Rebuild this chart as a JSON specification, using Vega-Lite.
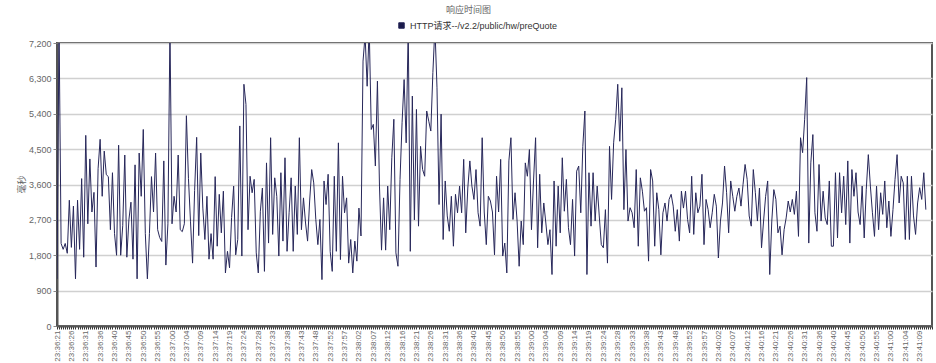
{
"$schema": "https://vega.github.io/schema/vega-lite/v6.json",
"width": 875, "height": 283,
"autosize": "none",
"padding": {"left": 57, "top": 43, "right": 4, "bottom": 37},
"background": "white",
"config": {"view": {"stroke": "#555555", "strokeWidth": 2}, "font": "Liberation Sans, Noto Sans CJK SC"},
"title": {"text": "响应时间图", "fontSize": 9, "fontWeight": "normal", "color": "#666666", "anchor": "middle", "dx": -26, "offset": 6, "font": "Noto Sans CJK SC"},
"data": {"values": [
{"i":0,"v":1200},{"i":1,"v":7600},{"i":2,"v":2100},{"i":3,"v":1950},{"i":4,"v":2100},{"i":5,"v":1850},{"i":6,"v":3200},{"i":7,"v":2000},{"i":8,"v":3050},{"i":9,"v":1200},
{"i":10,"v":3200},{"i":11,"v":1950},{"i":12,"v":3750},{"i":13,"v":1750},{"i":14,"v":4850},{"i":15,"v":2600},{"i":16,"v":4250},{"i":17,"v":2900},{"i":18,"v":3400},{"i":19,"v":1500},
{"i":20,"v":4000},{"i":21,"v":4750},{"i":22,"v":3300},{"i":23,"v":4450},{"i":24,"v":3850},{"i":25,"v":3800},{"i":26,"v":2450},{"i":27,"v":3900},{"i":28,"v":2350},{"i":29,"v":1800},
{"i":30,"v":4600},{"i":31,"v":1800},{"i":32,"v":2550},{"i":33,"v":4350},{"i":34,"v":1750},{"i":35,"v":2700},{"i":36,"v":3150},{"i":37,"v":1700},{"i":38,"v":4100},{"i":39,"v":1200},
{"i":40,"v":4400},{"i":41,"v":3300},{"i":42,"v":5000},{"i":43,"v":2350},{"i":44,"v":1200},{"i":45,"v":2350},{"i":46,"v":3800},{"i":47,"v":2900},{"i":48,"v":4400},{"i":49,"v":2450},
{"i":50,"v":2250},{"i":51,"v":2150},{"i":52,"v":4200},{"i":53,"v":1550},{"i":54,"v":2600},{"i":55,"v":7600},{"i":56,"v":2600},{"i":57,"v":3300},{"i":58,"v":2900},{"i":59,"v":4350},
{"i":60,"v":2450},{"i":61,"v":2400},{"i":62,"v":2600},{"i":63,"v":5350},{"i":64,"v":3750},{"i":65,"v":2650},{"i":66,"v":1600},{"i":67,"v":3450},{"i":68,"v":4800},{"i":69,"v":2300},
{"i":70,"v":4400},{"i":71,"v":3000},{"i":72,"v":2200},{"i":73,"v":3300},{"i":74,"v":1700},{"i":75,"v":2350},{"i":76,"v":1700},{"i":77,"v":3800},{"i":78,"v":2030},{"i":79,"v":3350},
{"i":80,"v":2370},{"i":81,"v":3430},{"i":82,"v":1350},{"i":83,"v":1900},{"i":84,"v":1480},{"i":85,"v":2760},{"i":86,"v":3560},{"i":87,"v":1810},{"i":88,"v":2200},{"i":89,"v":5090},
{"i":90,"v":1780},{"i":91,"v":6150},{"i":92,"v":5640},{"i":93,"v":2450},{"i":94,"v":3810},{"i":95,"v":3390},{"i":96,"v":3730},{"i":97,"v":1860},{"i":98,"v":1350},{"i":99,"v":2920},
{"i":100,"v":3510},{"i":101,"v":1390},{"i":102,"v":4150},{"i":103,"v":2110},{"i":104,"v":4790},{"i":105,"v":2330},{"i":106,"v":3770},{"i":107,"v":3300},{"i":108,"v":1780},{"i":109,"v":3900},
{"i":110,"v":2160},{"i":111,"v":4280},{"i":112,"v":1900},{"i":113,"v":2880},{"i":114,"v":3770},{"i":115,"v":1900},{"i":116,"v":3560},{"i":117,"v":2330},{"i":118,"v":4790},{"i":119,"v":2450},
{"i":120,"v":3260},{"i":121,"v":2620},{"i":122,"v":2160},{"i":123,"v":3180},{"i":124,"v":3980},{"i":125,"v":3640},{"i":126,"v":2710},{"i":127,"v":2070},{"i":128,"v":2710},{"i":129,"v":1180},
{"i":130,"v":3690},{"i":131,"v":3090},{"i":132,"v":3860},{"i":133,"v":1900},{"i":134,"v":1390},{"i":135,"v":3810},{"i":136,"v":1900},{"i":137,"v":4660},{"i":138,"v":1690},{"i":139,"v":3810},
{"i":140,"v":2880},{"i":141,"v":3260},{"i":142,"v":1600},{"i":143,"v":2200},{"i":144,"v":1350},{"i":145,"v":2160},{"i":146,"v":1650},{"i":147,"v":3000},{"i":148,"v":2290},{"i":149,"v":6740},
{"i":150,"v":7400},{"i":151,"v":6100},{"i":152,"v":7600},{"i":153,"v":5000},{"i":154,"v":5130},{"i":155,"v":4070},{"i":156,"v":6230},{"i":157,"v":3560},{"i":158,"v":1930},{"i":159,"v":3260},
{"i":160,"v":1930},{"i":161,"v":3560},{"i":162,"v":2450},{"i":163,"v":4280},{"i":164,"v":5260},{"i":165,"v":1860},{"i":166,"v":1520},{"i":167,"v":3730},{"i":168,"v":5170},{"i":169,"v":6270},
{"i":170,"v":4660},{"i":171,"v":7600},{"i":172,"v":1900},{"i":173,"v":5850},{"i":174,"v":2700},{"i":175,"v":5510},{"i":176,"v":2540},{"i":177,"v":4570},{"i":178,"v":3980},{"i":179,"v":3810},
{"i":180,"v":5470},{"i":181,"v":5210},{"i":182,"v":4960},{"i":183,"v":6450},{"i":184,"v":7600},{"i":185,"v":6060},{"i":186,"v":3090},{"i":187,"v":5390},{"i":188,"v":2200},{"i":189,"v":3690},
{"i":190,"v":2800},{"i":191,"v":2410},{"i":192,"v":3300},{"i":193,"v":2030},{"i":194,"v":3350},{"i":195,"v":2880},{"i":196,"v":3560},{"i":197,"v":2880},{"i":198,"v":4240},{"i":199,"v":2370},
{"i":200,"v":3510},{"i":201,"v":4200},{"i":202,"v":3560},{"i":203,"v":3220},{"i":204,"v":3980},{"i":205,"v":2880},{"i":206,"v":2540},{"i":207,"v":4790},{"i":208,"v":2900},{"i":209,"v":2070},
{"i":210,"v":3300},{"i":211,"v":3180},{"i":212,"v":2900},{"i":213,"v":1810},{"i":214,"v":3810},{"i":215,"v":2900},{"i":216,"v":4240},{"i":217,"v":1780},{"i":218,"v":2110},{"i":219,"v":1350},
{"i":220,"v":4200},{"i":221,"v":4790},{"i":222,"v":2710},{"i":223,"v":3390},{"i":224,"v":2670},{"i":225,"v":1520},{"i":226,"v":2670},{"i":227,"v":2070},{"i":228,"v":4150},{"i":229,"v":3810},
{"i":230,"v":4490},{"i":231,"v":2450},{"i":232,"v":3690},{"i":233,"v":4790},{"i":234,"v":1990},{"i":235,"v":3860},{"i":236,"v":2370},{"i":237,"v":3130},{"i":238,"v":2620},{"i":239,"v":2070},
{"i":240,"v":2450},{"i":241,"v":1310},{"i":242,"v":3690},{"i":243,"v":2030},{"i":244,"v":3560},{"i":245,"v":2370},{"i":246,"v":4280},{"i":247,"v":2920},{"i":248,"v":3730},{"i":249,"v":2500},
{"i":250,"v":2070},{"i":251,"v":3220},{"i":252,"v":1780},{"i":253,"v":3940},{"i":254,"v":4070},{"i":255,"v":2880},{"i":256,"v":4570},{"i":257,"v":5470},{"i":258,"v":1310},{"i":259,"v":3900},
{"i":260,"v":2540},{"i":261,"v":3900},{"i":262,"v":2670},{"i":263,"v":3560},{"i":264,"v":2800},{"i":265,"v":2070},{"i":266,"v":1990},{"i":267,"v":2960},{"i":268,"v":1600},{"i":269,"v":4570},
{"i":270,"v":3220},{"i":271,"v":4660},{"i":272,"v":5260},{"i":273,"v":6150},{"i":274,"v":4700},{"i":275,"v":6060},{"i":276,"v":2960},{"i":277,"v":4490},{"i":278,"v":2670},{"i":279,"v":3010},
{"i":280,"v":2880},{"i":281,"v":2500},{"i":282,"v":3980},{"i":283,"v":2030},{"i":284,"v":3770},{"i":285,"v":3430},{"i":286,"v":2920},{"i":287,"v":3010},{"i":288,"v":1650},{"i":289,"v":3980},
{"i":290,"v":3690},{"i":291,"v":2030},{"i":292,"v":3390},{"i":293,"v":2960},{"i":294,"v":1810},{"i":295,"v":2880},{"i":296,"v":3130},{"i":297,"v":2670},{"i":298,"v":3220},{"i":299,"v":3350},
{"i":300,"v":3050},{"i":301,"v":2410},{"i":302,"v":2960},{"i":303,"v":2160},{"i":304,"v":3430},{"i":305,"v":3000},{"i":306,"v":3430},{"i":307,"v":2710},{"i":308,"v":2370},{"i":309,"v":3810},
{"i":310,"v":2330},{"i":311,"v":3390},{"i":312,"v":2880},{"i":313,"v":3050},{"i":314,"v":3860},{"i":315,"v":2070},{"i":316,"v":3220},{"i":317,"v":2960},{"i":318,"v":2500},{"i":319,"v":2880},
{"i":320,"v":3350},{"i":321,"v":3050},{"i":322,"v":1730},{"i":323,"v":2670},{"i":324,"v":3130},{"i":325,"v":4070},{"i":326,"v":3390},{"i":327,"v":2370},{"i":328,"v":3690},{"i":329,"v":3300},
{"i":330,"v":2920},{"i":331,"v":3300},{"i":332,"v":3510},{"i":333,"v":3050},{"i":334,"v":3600},{"i":335,"v":4110},{"i":336,"v":3730},{"i":337,"v":2800},{"i":338,"v":2540},{"i":339,"v":3980},
{"i":340,"v":3390},{"i":341,"v":2670},{"i":342,"v":3510},{"i":343,"v":1990},{"i":344,"v":2670},{"i":345,"v":3300},{"i":346,"v":3690},{"i":347,"v":1310},{"i":348,"v":2670},{"i":349,"v":3470},
{"i":350,"v":3220},{"i":351,"v":2370},{"i":352,"v":2540},{"i":353,"v":1810},{"i":354,"v":2450},{"i":355,"v":2750},{"i":356,"v":3180},{"i":357,"v":2900},{"i":358,"v":3220},{"i":359,"v":2840},
{"i":360,"v":3430},{"i":361,"v":2280},{"i":362,"v":4790},{"i":363,"v":4410},{"i":364,"v":5260},{"i":365,"v":6320},{"i":366,"v":2110},{"i":367,"v":4150},{"i":368,"v":4870},{"i":369,"v":2880},
{"i":370,"v":2410},{"i":371,"v":4110},{"i":372,"v":2670},{"i":373,"v":3430},{"i":374,"v":2750},{"i":375,"v":2580},{"i":376,"v":3690},{"i":377,"v":2030},{"i":378,"v":2030},{"i":379,"v":3900},
{"i":380,"v":2240},{"i":381,"v":3900},{"i":382,"v":2880},{"i":383,"v":3810},{"i":384,"v":2580},{"i":385,"v":4200},{"i":386,"v":2110},{"i":387,"v":3980},{"i":388,"v":3300},{"i":389,"v":3900},
{"i":390,"v":2900},{"i":391,"v":2580},{"i":392,"v":3560},{"i":393,"v":2240},{"i":394,"v":3480},{"i":395,"v":4360},{"i":396,"v":3560},{"i":397,"v":2880},{"i":398,"v":2280},{"i":399,"v":3560},
{"i":400,"v":2450},{"i":401,"v":3390},{"i":402,"v":2840},{"i":403,"v":3690},{"i":404,"v":2500},{"i":405,"v":3180},{"i":406,"v":2280},{"i":407,"v":2960},{"i":408,"v":3730},{"i":409,"v":4360},
{"i":410,"v":3130},{"i":411,"v":3810},{"i":412,"v":3640},{"i":413,"v":2200},{"i":414,"v":3810},{"i":415,"v":2200},{"i":416,"v":3810},{"i":417,"v":2800},{"i":418,"v":2330},{"i":419,"v":3130},
{"i":420,"v":3520},{"i":421,"v":3220},{"i":422,"v":3900},{"i":423,"v":2960}
]},
"mark": {"type": "line", "strokeWidth": 1, "clip": true},
"encoding": {
"x": {"field": "i", "type": "quantitative", "scale": {"domain": [0, 426], "nice": false, "zero": false},
 "axis": {"title": null, "grid": false, "tickCount": 400,
  "labelExpr": "(datum.value % 7 == 0 && datum.value <= 420) ? ['23:36:21','23:36:26','23:36:31','23:36:36','23:36:40','23:36:45','23:36:50','23:36:55','23:37:00','23:37:04','23:37:09','23:37:14','23:37:19','23:37:24','23:37:28','23:37:33','23:37:38','23:37:43','23:37:48','23:37:52','23:37:57','23:38:02','23:38:07','23:38:12','23:38:16','23:38:21','23:38:26','23:38:31','23:38:36','23:38:40','23:38:45','23:38:50','23:38:55','23:39:00','23:39:04','23:39:09','23:39:14','23:39:19','23:39:24','23:39:28','23:39:33','23:39:38','23:39:43','23:39:48','23:39:52','23:39:57','23:40:02','23:40:07','23:40:12','23:40:16','23:40:21','23:40:26','23:40:31','23:40:36','23:40:40','23:40:45','23:40:50','23:40:55','23:41:00','23:41:04','23:41:09'][datum.value / 7] : ''",
  "labelAngle": 270, "labelAlign": "right", "labelBaseline": "middle", "labelFontSize": 8, "labelColor": "#666666",
  "labelOverlap": false, "labelBound": false, "labelFlush": false, "labelPadding": 1,
  "tickSize": 3, "tickColor": "#333333", "tickWidth": 1, "domainColor": "#555555", "domainWidth": 2}},
"y": {"field": "v", "type": "quantitative", "scale": {"domain": [0, 7200], "nice": false},
 "axis": {"values": [0, 900, 1800, 2700, 3600, 4500, 5400, 6300, 7200], "format": ",.0f", "labelFontSize": 9, "labelColor": "#666666", "labelPadding": 2,
  "tickSize": 4, "tickColor": "#888888", "domainColor": "#555555", "domainWidth": 2, "gridColor": "#d0d0d0", "gridWidth": 1.5,
  "title": "毫秒", "titleFontSize": 9, "titleFontWeight": "normal", "titleColor": "#666666", "titleFont": "Noto Sans CJK SC",
  "titleX": -36, "titleY": 141, "titleAlign": "center", "titleBaseline": "middle"}},
"color": {"datum": "HTTP请求--/v2.2/public/hw/preQuote", "type": "nominal", "scale": {"range": ["#27275a"]},
 "legend": {"title": null, "orient": "none", "legendX": 340, "legendY": -22, "symbolType": "square", "symbolSize": 30, "symbolFillColor": "#1a1a4a", "symbolStrokeColor": "#1a1a4a", "symbolStrokeWidth": 1,
  "labelFontSize": 9, "labelColor": "#333333", "labelFont": "Liberation Sans, Noto Sans CJK SC"}}
}
}
